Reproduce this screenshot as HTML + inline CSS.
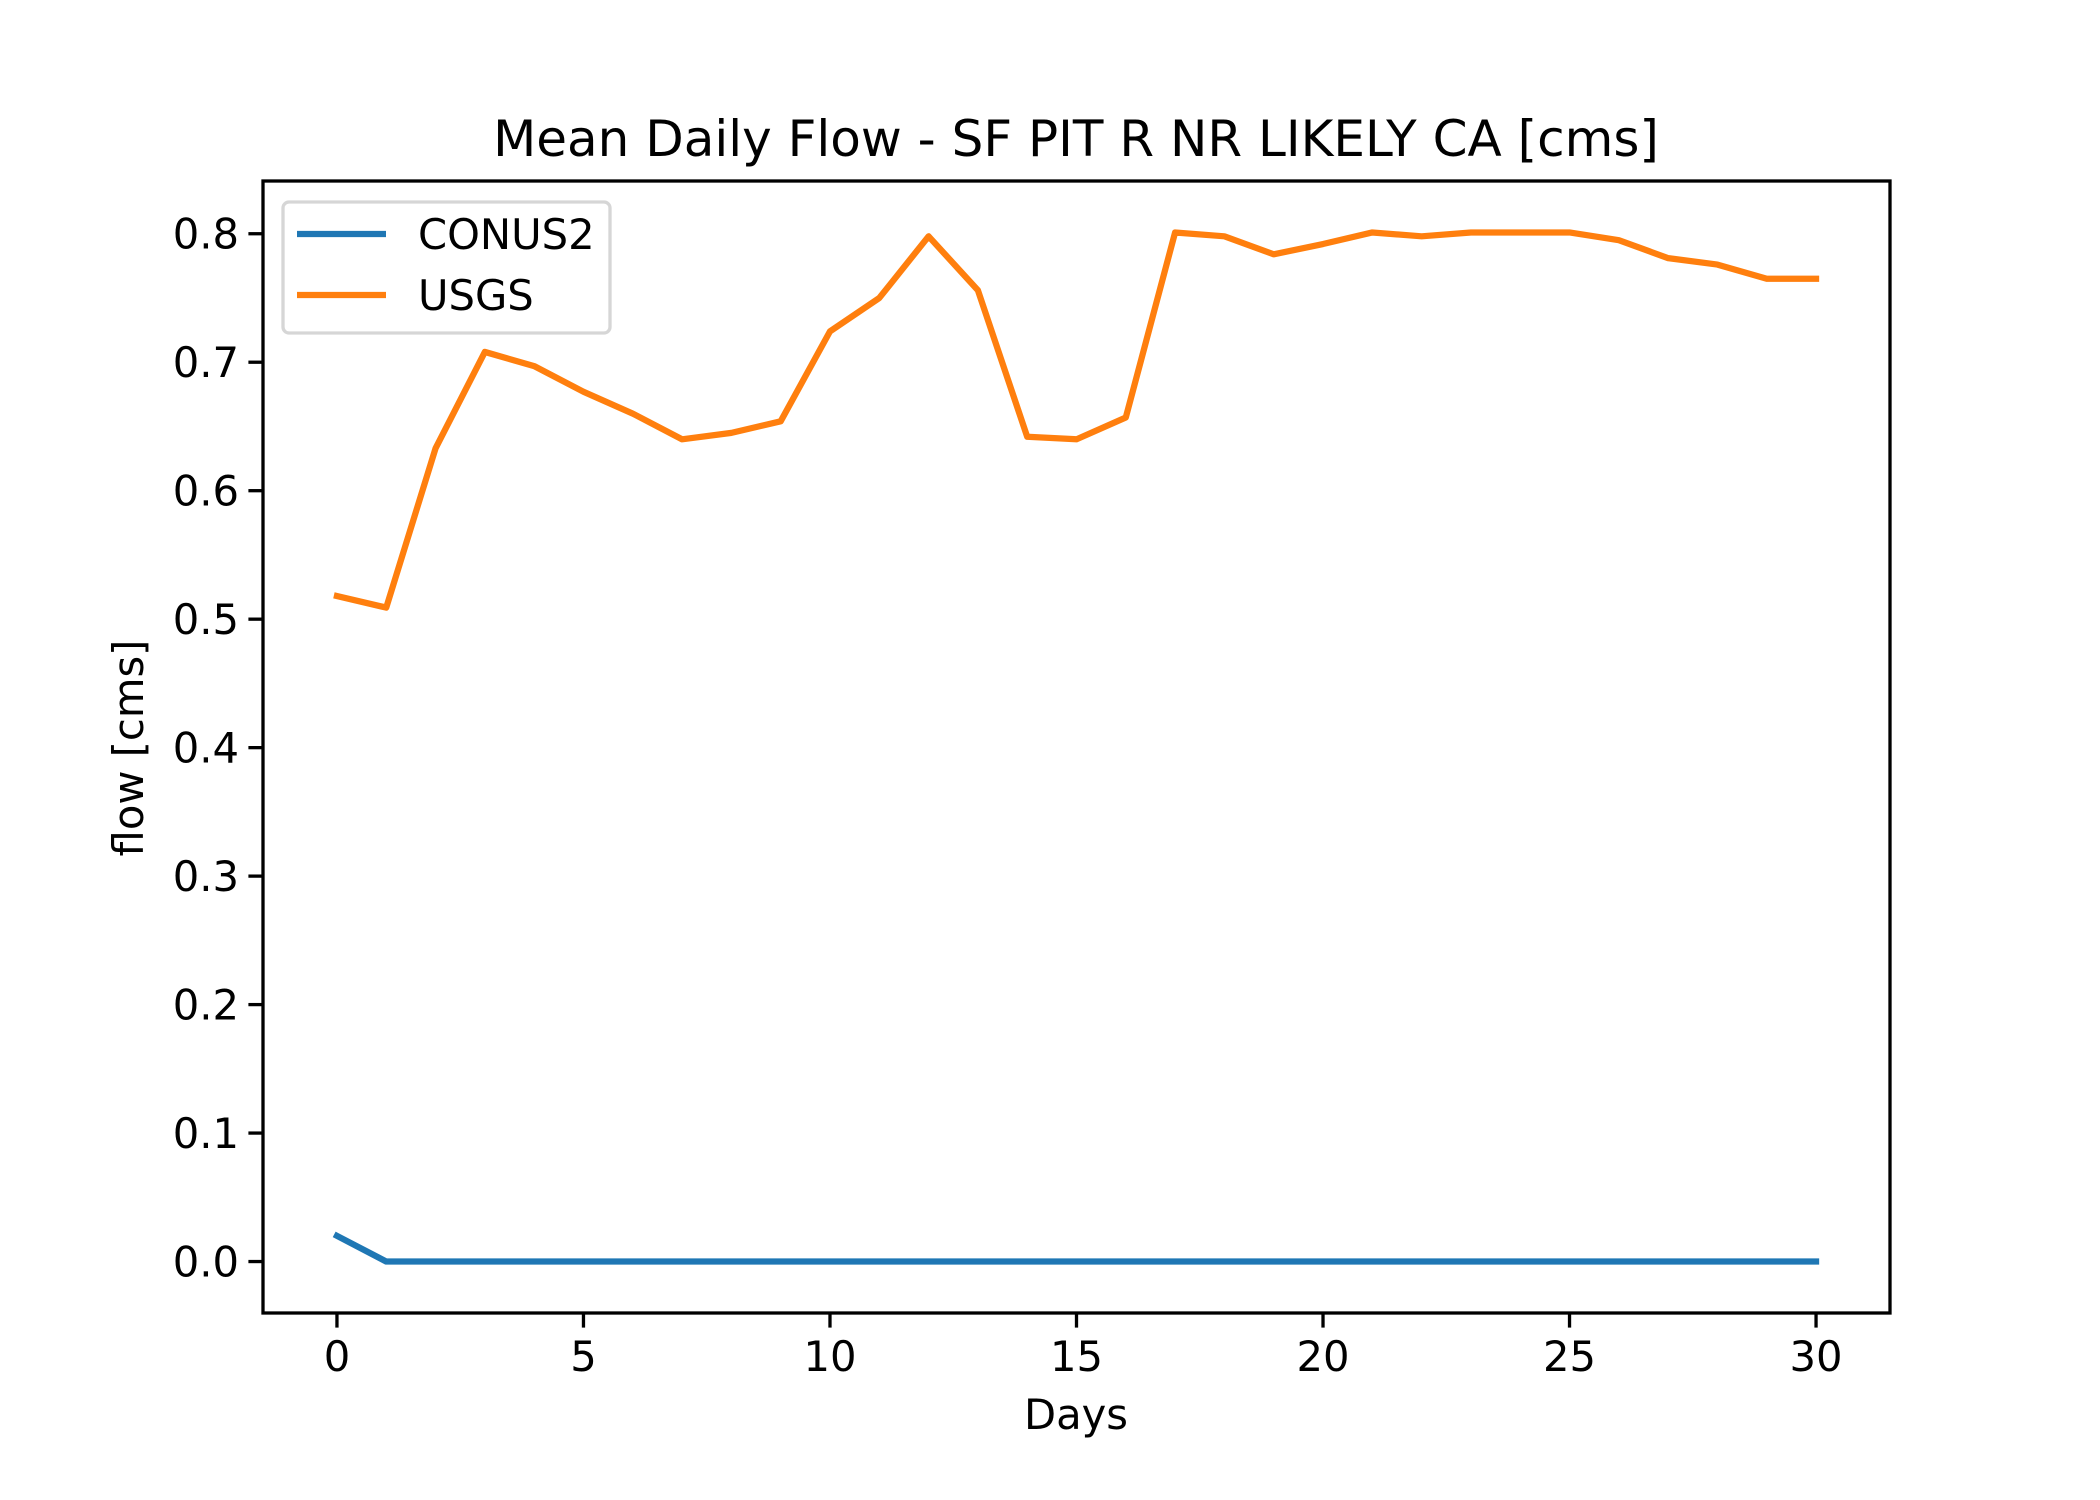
<!DOCTYPE html>
<html><head><meta charset="utf-8"><style>
html,body{margin:0;padding:0;background:#fff}
svg{display:block;font-family:"DejaVu Sans","Liberation Sans",sans-serif}
</style></head><body>
<svg id="chart" width="2100" height="1500" viewBox="0 0 2100 1500">
<text x="1076" y="156" font-size="50" text-anchor="middle">Mean Daily Flow - SF PIT R NR LIKELY CA [cms]</text>
<g id="plot"></g>
<text x="1076" y="1429" font-size="41.7" text-anchor="middle">Days</text>
<text transform="translate(143,748) rotate(-90)" font-size="41.7" text-anchor="middle">flow [cms]</text>
<g>
<rect x="283" y="202" width="327" height="131" rx="6" fill="#fff" fill-opacity="0.8" stroke="#d6d6d6" stroke-width="3.3"/>
<line x1="297" y1="234" x2="386" y2="234" stroke="#1f77b4" stroke-width="6.25"/>
<text x="418" y="249" font-size="41.7">CONUS2</text>
<line x1="297" y1="295" x2="386" y2="295" stroke="#ff7f0e" stroke-width="6.25"/>
<text x="418" y="310" font-size="41.7">USGS</text>
</g>
</svg>
<script>
const days = Array.from({length:31},(_,i)=>i);
const conus2 = [0.02,0,0,0,0,0,0,0,0,0,0,0,0,0,0,0,0,0,0,0,0,0,0,0,0,0,0,0,0,0,0];
const usgs = [0.518,0.509,0.633,0.708,0.697,0.677,0.660,0.640,0.645,0.654,0.724,0.750,0.798,0.756,0.642,0.640,0.657,0.801,0.798,0.784,0.792,0.801,0.798,0.801,0.801,0.801,0.795,0.781,0.776,0.765,0.765];
const xTicks = [0,5,10,15,20,25,30];
const yTicks = [0.0,0.1,0.2,0.3,0.4,0.5,0.6,0.7,0.8];
const L=263,R=1890,T=181,B=1313;
const ns="http://www.w3.org/2000/svg";
const g=document.getElementById('plot');
const all=usgs.concat(conus2);
const dmin=Math.min(...all),dmax=Math.max(...all),pad=(dmax-dmin)*0.05;
const y0=dmin-pad,y1=dmax+pad;
const x0=days[0]-(days[days.length-1]-days[0])*0.05,x1=days[days.length-1]+(days[days.length-1]-days[0])*0.05;
const sx=v=>L+(v-x0)/(x1-x0)*(R-L);
const sy=v=>B-(v-y0)/(y1-y0)*(B-T);
function mk(t,a){const e=document.createElementNS(ns,t);for(const k in a)e.setAttribute(k,a[k]);g.appendChild(e);return e;}
[[conus2,'#1f77b4','conus2-line'],[usgs,'#ff7f0e','usgs-line']].forEach(([s,c,n])=>{
 const p=mk('polyline',{points:s.map((v,i)=>sx(days[i])+','+sy(v)).join(' '),fill:'none',stroke:c,'stroke-width':6.25,'stroke-linejoin':'round','stroke-linecap':'square'});
 
 
});
const fr=mk('rect',{x:L,y:T,width:R-L,height:B-T,fill:'none',stroke:'#000','stroke-width':3.3});


xTicks.forEach(v=>{
 const tk=mk('line',{x1:sx(v),x2:sx(v),y1:B,y2:B+14.6,stroke:'#000','stroke-width':3.3});
 
 
 const t=mk('text',{x:sx(v),y:B+58,'font-size':41.7,'text-anchor':'middle'});t.textContent=v;
 
 
});
yTicks.forEach(v=>{
 const tk=mk('line',{x1:L-14.6,x2:L,y1:sy(v),y2:sy(v),stroke:'#000','stroke-width':3.3});
 
 
 const t=mk('text',{x:L-24,y:sy(v)+15,'font-size':41.7,'text-anchor':'end'});t.textContent=v.toFixed(1);
 
 
});
</script>
</body></html>
